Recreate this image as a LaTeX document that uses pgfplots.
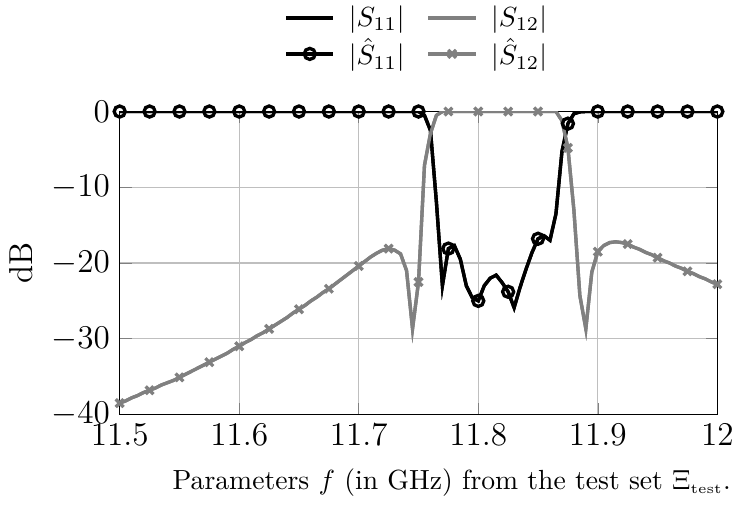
\documentclass[border=0pt]{standalone}
\usepackage{pgfplots}
\usepackage{pgfplotstable}
\usepackage{amsmath}
\pgfplotsset{compat=1.18}
\pgfplotstableread{
f s11 s12
11.500 0 -38.5
11.505 0 -38.2
11.510 0 -37.8
11.515 0 -37.5
11.520 0 -37.1
11.525 0 -36.8
11.530 0 -36.5
11.535 0 -36.1
11.540 0 -35.8
11.545 0 -35.5
11.550 0 -35.1
11.555 0 -34.7
11.560 0 -34.3
11.565 0 -33.9
11.570 0 -33.5
11.575 0 -33.1
11.580 0 -32.7
11.585 0 -32.3
11.590 0 -31.9
11.595 0 -31.4
11.600 0 -31.0
11.605 0 -30.5
11.610 0 -30.1
11.615 0 -29.6
11.620 0 -29.2
11.625 0 -28.7
11.630 0 -28.2
11.635 0 -27.7
11.640 0 -27.2
11.645 0 -26.6
11.650 0 -26.1
11.655 0 -25.6
11.660 0 -25.0
11.665 0 -24.5
11.670 0 -23.9
11.675 0 -23.4
11.680 0 -22.8
11.685 0 -22.2
11.690 0 -21.6
11.695 0 -21.0
11.700 0 -20.4
11.705 0 -19.8
11.710 0 -19.2
11.715 0 -18.7
11.720 0 -18.3
11.725 0 -18.1
11.730 0 -18.3
11.735 0 -18.8
11.740 0 -21.0
11.745 0 -28.7
11.750 0 -22.5
11.755 -0.5 -7.1
11.760 -2.5 -2.9
11.765 -12.0 -0.5
11.770 -23.0 0
11.775 -18.1 0
11.780 -17.7 0
11.785 -19.5 0
11.790 -23.0 0
11.795 -24.6 0
11.800 -25.0 0
11.805 -23.0 0
11.810 -22.0 0
11.815 -21.6 0
11.820 -22.6 0
11.825 -23.8 0
11.830 -25.9 0
11.835 -23.2 0
11.840 -20.8 0
11.845 -18.6 0
11.850 -16.8 0
11.855 -16.4 0
11.860 -17.0 0
11.865 -13.5 0
11.870 -5.3 -1.2
11.875 -1.6 -4.8
11.880 -0.3 -13.0
11.885 -0.05 -24.3
11.890 0 -28.7
11.895 0 -21.2
11.900 0 -18.5
11.905 0 -17.7
11.910 0 -17.3
11.915 0 -17.2
11.920 0 -17.3
11.925 0 -17.5
11.930 0 -17.9
11.935 0 -18.2
11.940 0 -18.6
11.945 0 -18.9
11.950 0 -19.3
11.955 0 -19.7
11.960 0 -20.0
11.965 0 -20.4
11.970 0 -20.7
11.975 0 -21.1
11.980 0 -21.4
11.985 0 -21.8
11.990 0 -22.1
11.995 0 -22.5
12.000 0 -22.8
}\datatable
\begin{document}
\begin{tikzpicture}
\begin{axis}[
  scale only axis,
  width=216pt, height=109.5pt,
  xmin=11.5, xmax=12, ymin=-40, ymax=0,
  xtick={11.5,11.6,11.7,11.8,11.9,12},
  ytick={-40,-30,-20,-10,0},
  tick label style={font=\large},
  xticklabel style={inner xsep=0pt},
  label style={font=\large},
  grid=major,
  xlabel={Parameters $f$ (in GHz) from the test set $\Xi_{\scriptscriptstyle\mathrm{test}}$.},
  xlabel style={xshift=12pt, yshift=-1.5pt, font=\normalsize},
  ylabel={dB},
  legend columns=2,
  legend style={draw=none, at={(0.5,1.12)}, anchor=south, row sep=-1pt, inner ysep=0pt,
    /tikz/every odd column/.append style={column sep=3pt},
    /tikz/every even column/.append style={column sep=6pt}},
]
\addplot[black, very thick, no markers] table[x=f, y=s11] {\datatable};
\addlegendentry{$|S_{11}|$}
\addplot[gray, very thick, no markers] table[x=f, y=s12] {\datatable};
\addlegendentry{$|S_{12}|$}
\addplot[black, very thick, mark=o, mark size=2pt, mark repeat=5, mark phase=1] table[x=f, y=s11] {\datatable};
\addlegendentry{$|\hat{S}_{11}|$}
\addplot[gray, very thick, mark=x, mark size=2pt, mark repeat=5, mark phase=1] table[x=f, y=s12] {\datatable};
\addlegendentry{$|\hat{S}_{12}|$}
\end{axis}
\end{tikzpicture}
\end{document}
